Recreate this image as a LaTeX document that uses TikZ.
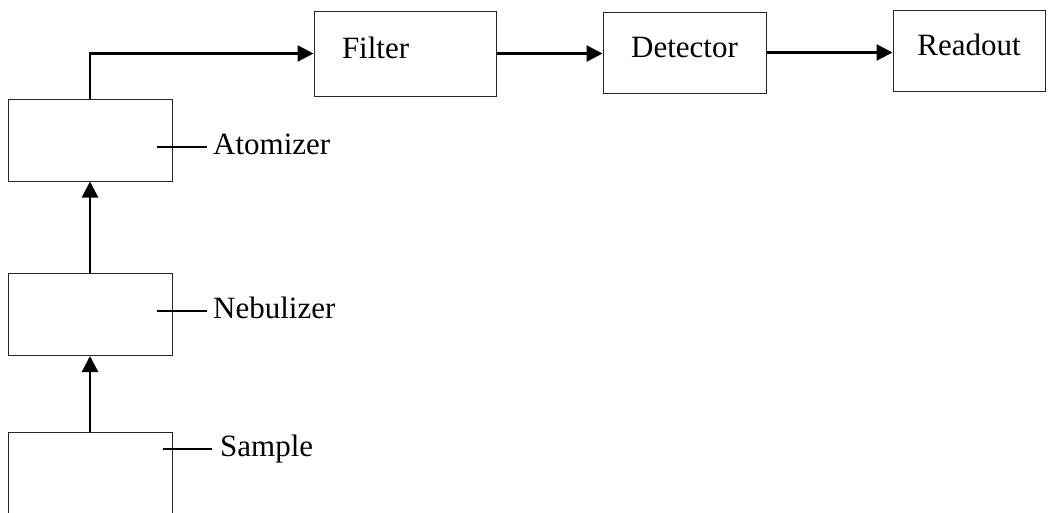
\documentclass[tikz,border=0pt]{standalone}
\usepackage{fontspec}
\setmainfont{Liberation Serif}
\usetikzlibrary{arrows.meta}

\tikzset{
  unit/.style={draw=black!85, line width=1pt, minimum width=164pt, minimum height=82pt, inner sep=0pt},
  stage/.style={draw=black!85, line width=1pt, inner sep=0pt, text height=21pt, text depth=11pt},
  tag/.style={anchor=west, inner xsep=6pt, inner ysep=0pt, text height=21pt, text depth=7pt},
  flow/.style={-{Triangle[length=16pt,width=16pt]}, line width=2.4pt},
  tick/.style={line width=1.8pt}
}

\begin{document}
\begin{tikzpicture}[x=1pt,y=-1pt,font=\fontsize{31}{36}\selectfont]
  \useasboundingbox (0,0) rectangle (1048,512);
  % left column
  \node[unit] (atomizer) at (90,140) {};
  \node[unit] (nebulizer) at (90,314.5) {};
  \node[unit, minimum height=100pt] (sample) at (90,482) {};
  % top row
  \node[stage, minimum width=182pt, minimum height=85pt, text width=126pt, align=left] (filter) at (405,53.5) {Filter};
  \node[stage, minimum width=163pt, minimum height=81pt] (detector) at (684.5,52.5) {Detector};
  \node[stage, minimum width=152pt, minimum height=81pt] (readout) at (969,50.5) {Readout};
  % labels
  \node[tag] (atomizerTag) at (207,147) {Atomizer};
  \node[tag] (nebulizerTag) at (207,311) {Nebulizer};
  \node[tag, inner xsep=8pt] (sampleTag) at (212,449) {Sample};
  \draw[tick] ([xshift=-16pt]atomizer.east |- atomizerTag.west) -- (atomizerTag.west);
  \draw[tick] ([xshift=-16pt]nebulizer.east |- nebulizerTag.west) -- (nebulizerTag.west);
  \draw[tick] ([xshift=-10pt]sample.east |- sampleTag.west) -- (sampleTag.west);
  % flow
  \draw[flow] (sample.north) -- (nebulizer.south);
  \draw[flow] (nebulizer.north) -- (atomizer.south);
  \draw[flow] (atomizer.north) |- (filter.west);
  \draw[flow] (filter.east) -- (filter.east -| detector.west);
  \draw[flow] (detector.east) -- (detector.east -| readout.west);
\end{tikzpicture}
\end{document}
